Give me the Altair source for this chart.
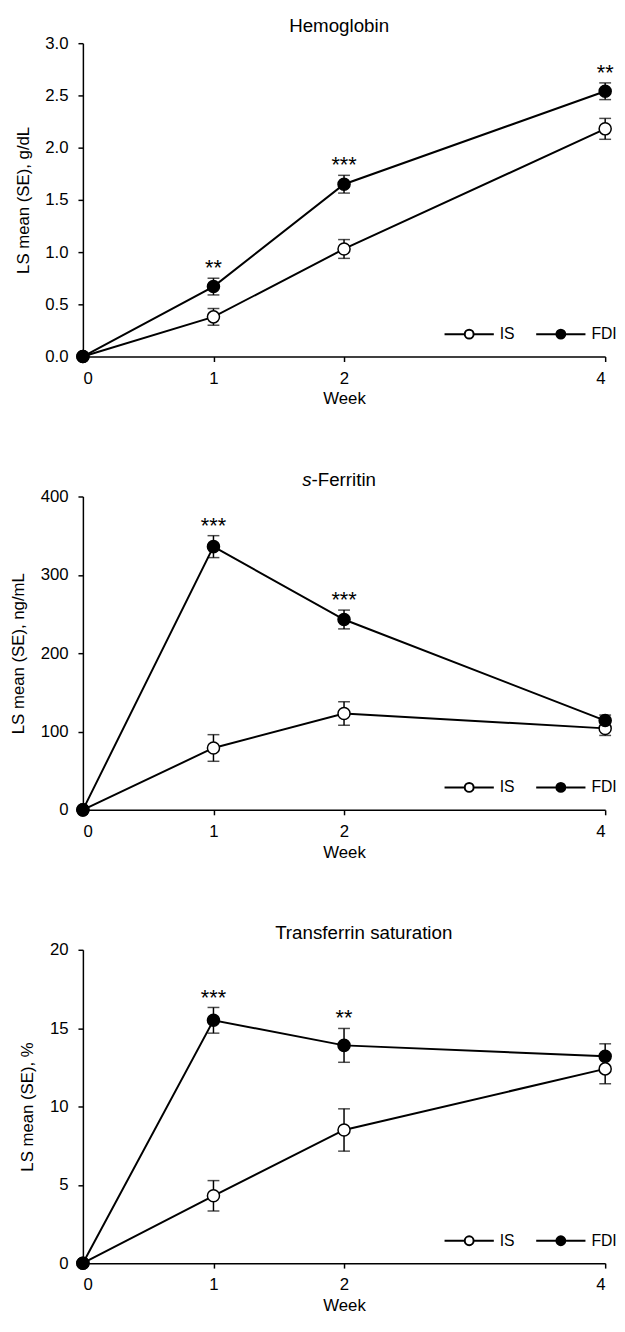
import altair as alt
import pandas as pd

FONT = "Liberation Sans"

weeks = [0, 1, 2, 4]

hb_is = [0, 0.38, 1.03, 2.18]
hb_is_se = [0, 0.08, 0.09, 0.10]
hb_fdi = [0, 0.67, 1.65, 2.54]
hb_fdi_se = [0, 0.08, 0.085, 0.08]
hb_star_weeks = [1, 2, 4]
hb_stars = ["**", "***", "**"]

fer_is = [0, 79, 123, 104]
fer_is_se = [0, 17, 15, 9]
fer_fdi = [0, 336, 243, 114]
fer_fdi_se = [0, 14, 12, 7]
fer_star_weeks = [1, 2]
fer_stars = ["***", "***"]

ts_is = [0, 4.3, 8.5, 12.4]
ts_is_se = [0, 0.97, 1.35, 0.95]
ts_fdi = [0, 15.5, 13.9, 13.2]
ts_fdi_se = [0, 0.82, 1.08, 0.80]
ts_star_weeks = [1, 2]
ts_stars = ["***", "**"]

series_names = ["IS", "FDI"]
x_ticks = [0, 1, 2, 4]

W, H = 530, 318
XMAX = 4.0
LEGEND_PATH = ("M-1,0L-0.18,0M0.18,0L1,0"
               "M0.18,0A0.18,0.18,0,1,1,-0.18,0A0.18,0.18,0,1,1,0.18,0Z")


def panel(is_v, is_se, fdi_v, fdi_se, star_w, star_l, ydom, yvals, yfmt,
          ytitle, title_parts):
    rows = []
    for s, vals, ses in [("IS", is_v, is_se), ("FDI", fdi_v, fdi_se)]:
        for w, v, e in zip(weeks, vals, ses):
            rows.append(dict(week=w, series=s, val=v, lo=v - e, hi=v + e))
    df = pd.DataFrame(rows)
    stars = pd.DataFrame({
        "week": star_w,
        "label": star_l,
        "pos": [fdi_v[weeks.index(w)] + fdi_se[weeks.index(w)] for w in star_w],
    })

    xs = alt.Scale(domain=[0, XMAX], nice=False, zero=False)
    ys = alt.Scale(domain=ydom, nice=False)
    xax = alt.Axis(values=x_ticks, format="d", title="Week")
    yax = alt.Axis(values=yvals, format=yfmt, title=ytitle)
    x = alt.X("week:Q", scale=xs, axis=xax)

    def Y(field):
        return alt.Y(field, scale=ys, axis=yax)

    base = alt.Chart(df)
    lines = base.mark_line(color="black", strokeWidth=2).encode(
        x=x, y=Y("val:Q"), detail="series:N")
    eb = base.transform_filter("datum.week > 0")
    rule = eb.mark_rule(color="black", strokeWidth=1.5).encode(
        x=x, y=Y("lo:Q"), y2="hi:Q")
    cap_lo = eb.mark_tick(color="black", orient="horizontal", size=12,
                          thickness=1.5).encode(x=x, y=Y("lo:Q"))
    cap_hi = eb.mark_tick(color="black", orient="horizontal", size=12,
                          thickness=1.5).encode(x=x, y=Y("hi:Q"))
    pts = base.mark_circle(size=150, stroke="black", strokeWidth=1.5,
                           opacity=1).encode(
        x=x,
        y=Y("val:Q"),
        fill=alt.Fill(
            "series:N",
            scale=alt.Scale(domain=series_names, range=["white", "black"]),
            sort=series_names,
            legend=alt.Legend(
                title=None, orient="none", legendX=366, legendY=269,
                direction="horizontal", symbolType=LEGEND_PATH,
                symbolSize=2500, symbolStrokeColor="black",
                symbolStrokeWidth=2, symbolOpacity=1, labelFont=FONT,
                labelFontSize=16, labelColor="black", labelOffset=5,
                columnPadding=17, padding=0,
            ),
        ),
        order=alt.Order("series:N", sort="descending"),
    )
    star_txt = alt.Chart(stars).mark_text(
        font=FONT, fontSize=22, baseline="alphabetic", dy=-3, color="black"
    ).encode(x=x, y=Y("pos:Q"), text="label:N")

    layers = [lines, rule, cap_lo, cap_hi, pts, star_txt]
    for txt, xpos, align, style in title_parts:
        tdf = pd.DataFrame({"t": [txt]})
        layers.append(
            alt.Chart(tdf).mark_text(
                font=FONT, fontSize=19, align=align, baseline="middle",
                fontStyle=style, color="black"
            ).encode(text="t:N", x=alt.value(xpos), y=alt.value(-17))
        )
    return alt.layer(*layers).properties(width=W, height=H)


p1 = panel(hb_is, hb_is_se, hb_fdi, hb_fdi_se, hb_star_weeks, hb_stars,
           [0, 3], [0, 0.5, 1, 1.5, 2, 2.5, 3], ".1f",
           "LS mean (SE), g/dL", [("Hemoglobin", 260, "center", "normal")])
p2 = panel(fer_is, fer_is_se, fer_fdi, fer_fdi_se, fer_star_weeks, fer_stars,
           [0, 400], [0, 100, 200, 300, 400], "d",
           "LS mean (SE), ng/mL",
           [("s", 232, "right", "italic"), ("-Ferritin", 232, "left", "normal")])
p3 = panel(ts_is, ts_is_se, ts_fdi, ts_fdi_se, ts_star_weeks, ts_stars,
           [0, 20], [0, 5, 10, 15, 20], "d",
           "LS mean (SE), %", [("Transferrin saturation", 285, "center", "normal")])

chart = alt.vconcat(p1, p2, p3, spacing=142).properties(
    bounds="flush",
    padding={"left": 1, "top": 0, "right": 0, "bottom": 0},
).resolve_scale(fill="independent").resolve_legend(fill="independent").configure(
    font=FONT
).configure_axis(
    labelFont=FONT, titleFont=FONT, labelFontSize=17, titleFontSize=17,
    titleFontWeight="normal", labelColor="black", titleColor="black",
    domainColor="black", tickColor="black", domainWidth=1.5, tickWidth=1.5,
    tickSize=5, grid=False,
).configure_axisX(labelPadding=9, titlePadding=5).configure_axisY(
    labelPadding=10, titlePadding=13
).configure_view(stroke=None)

chart.save("out.html", embed_options={"renderer": "svg", "actions": False})
